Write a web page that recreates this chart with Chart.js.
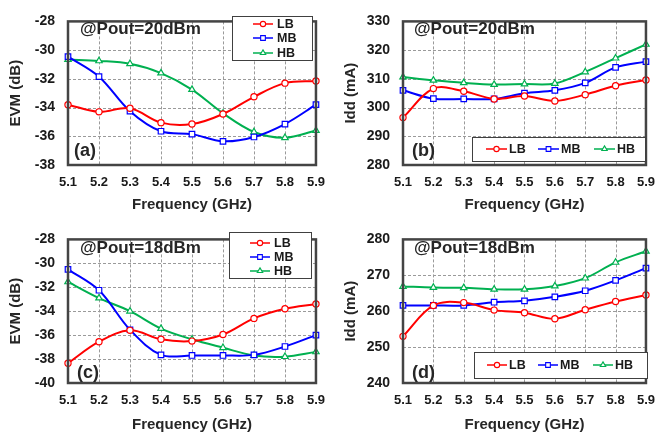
<!DOCTYPE html>
<html><head><meta charset="utf-8">
<script src="https://cdn.jsdelivr.net/npm/chart.js@4.4.0/dist/chart.umd.min.js"></script>
<style>
html,body{margin:0;padding:0;background:#fff;}
#wrap{position:relative;width:665px;height:438px;overflow:hidden;background:#fff;}
canvas{position:absolute;}
</style></head><body>
<div id="wrap">
<canvas id="ca" width="335" height="218" style="left:0;top:0"></canvas>
<canvas id="cb" width="330" height="218" style="left:335px;top:0"></canvas>
<canvas id="cc" width="335" height="220" style="left:0;top:218px"></canvas>
<canvas id="cd" width="330" height="220" style="left:335px;top:218px"></canvas>
</div>
<script>
// ---- data ----
const freqLabels = ['5.1','5.2','5.3','5.4','5.5','5.6','5.7','5.8','5.9'];
const seriesNames = ['LB','MB','HB'];

const evm20LB = [-33.8,-34.3,-34.05,-35.05,-35.15,-34.45,-33.25,-32.3,-32.15];
const evm20MB = [-30.45,-31.85,-34.25,-35.65,-35.85,-36.35,-36.05,-35.15,-33.8];
const evm20HB = [-30.65,-30.75,-30.95,-31.6,-32.75,-34.4,-35.7,-36.1,-35.6];

const idd20LB = [296.5,306.6,305.7,303.0,304.0,302.3,304.5,307.6,309.6];
const idd20MB = [306.0,303.1,303.0,303.0,305.0,306.0,308.6,314.0,316.0];
const idd20HB = [310.6,309.5,308.6,308.0,308.2,308.4,312.4,317.2,322.0];

const evm18LB = [-38.35,-36.55,-35.6,-36.35,-36.5,-35.95,-34.6,-33.8,-33.4];
const evm18MB = [-30.5,-32.25,-35.55,-37.65,-37.7,-37.7,-37.65,-36.95,-36.0];
const evm18HB = [-31.55,-32.9,-34.0,-35.45,-36.35,-37.05,-37.7,-37.8,-37.4];

const idd18LB = [253.0,261.6,262.4,260.3,259.6,257.9,260.4,262.7,264.5];
const idd18MB = [261.6,261.6,261.6,262.5,262.9,264.0,265.7,268.6,272.0];
const idd18HB = [266.9,266.6,266.5,266.1,266.1,267.0,269.2,273.6,276.7];

const evm20Ticks = [-38,-36,-34,-32,-30,-28];
const idd20Ticks = [280,290,300,310,320,330];
const evm18Ticks = [-40,-38,-36,-34,-32,-30,-28];
const idd18Ticks = [240,250,260,270,280];

// ---- styling ----
const FONT = "'Liberation Sans', Arial, sans-serif";
const COLORS = ['#ff0000','#0000ff','#00b050'];
const STYLES = ['circle','rect','triangle'];
const RADII = [3.1,3.9,3.7];

function makeDatasets(arrs){
  return arrs.map((d,i)=>({
    label: seriesNames[i],
    data: d,
    borderColor: COLORS[i],
    backgroundColor: '#ffffff',
    pointBackgroundColor: '#ffffff',
    pointBorderColor: COLORS[i],
    pointStyle: STYLES[i],
    pointRadius: RADII[i],
    pointBorderWidth: 1.2,
    borderWidth: 2,
    tension: 0.35,
    fill: false
  }));
}

// dashed grid drawn from the library's own scales
const gridPlugin = {
  id: 'dashGrid',
  beforeDatasetsDraw(chart){
    const ctx = chart.ctx, ca = chart.chartArea;
    const xs = chart.scales.x, ys = chart.scales.y;
    ctx.save();
    ctx.strokeStyle = '#9a9a9a';
    ctx.lineWidth = 1;
    ctx.setLineDash([3,2]);
    xs.ticks.forEach((t,i)=>{
      const px = Math.round(xs.getPixelForTick(i)) + 0.5;
      ctx.beginPath(); ctx.moveTo(px, ca.top); ctx.lineTo(px, ca.bottom); ctx.stroke();
    });
    ys.ticks.forEach(t=>{
      const py = Math.round(ys.getPixelForValue(t.value)) + 0.5;
      ctx.beginPath(); ctx.moveTo(ca.left, py); ctx.lineTo(ca.right, py); ctx.stroke();
    });
    ctx.restore();
  }
};

const decoPlugin = {
  id: 'deco',
  afterDraw(chart, args, o){
    const ctx = chart.ctx;
    const ca = chart.chartArea;
    ctx.save();
    // frame
    ctx.strokeStyle = '#444';
    ctx.lineWidth = 2.5;
    ctx.strokeRect(ca.left, ca.top, ca.right-ca.left, ca.bottom-ca.top);
    // texts
    ctx.fillStyle = '#262626';
    ctx.textBaseline = 'alphabetic';
    ctx.textAlign = 'left';
    ctx.font = 'bold 17px ' + FONT;
    ctx.fillText(o.title, o.titleX, o.titleY);
    ctx.font = 'bold 18px ' + FONT;
    ctx.fillText(o.tag, o.tagX, o.tagY);
    // legend
    const L = o.legend;
    ctx.fillStyle = '#fff';
    ctx.fillRect(L.box[0], L.box[1], L.box[2], L.box[3]);
    ctx.strokeStyle = '#404040';
    ctx.lineWidth = 1;
    ctx.strokeRect(L.box[0]+0.5, L.box[1]+0.5, L.box[2], L.box[3]);
    chart.data.datasets.forEach((ds,i)=>{
      const it = L.items[i];
      ctx.strokeStyle = ds.borderColor;
      ctx.lineWidth = 1.5;
      ctx.beginPath();
      ctx.moveTo(it.x1, it.y); ctx.lineTo(it.x2, it.y);
      ctx.stroke();
      ctx.fillStyle = '#fff';
      ctx.strokeStyle = ds.borderColor;
      ctx.lineWidth = 1.1;
      Chart.helpers.drawPoint(ctx, {pointStyle: ds.pointStyle, radius: ds.pointRadius*0.85, borderWidth: 1.1, rotation: 0}, (it.x1+it.x2)/2, it.y);
      ctx.fillStyle = '#1a1a1a';
      ctx.font = 'bold 12.5px ' + FONT;
      ctx.textBaseline = 'middle';
      ctx.fillText(ds.label, it.tx, it.y+0.5);
    });
    ctx.restore();
  }
};

function makeChart(id, arrs, ticks, yTitle, xHeight, padRight, deco){
  return new Chart(document.getElementById(id), {
    type: 'line',
    data: { labels: freqLabels, datasets: makeDatasets(arrs) },
    options: {
      responsive: false,
      animation: false,
      layout: { padding: { top: 12, right: padRight, left: 0, bottom: 0 } },
      plugins: { legend: { display: false }, tooltip: { enabled: false }, deco: deco },
      scales: {
        x: {
          type: 'category',
          offset: false,
          afterFit: s => { s.height = xHeight; },
          grid: { display: false, drawTicks: false },
          border: { display: false },
          ticks: { color: '#1a1a1a', font: { family: FONT, size: 13, weight: 'bold' }, padding: 10, maxRotation: 0, autoSkip: false },
          title: { display: true, text: 'Frequency (GHz)', color: '#262626', font: { family: FONT, size: 15, weight: 'bold' }, padding: { top: 0, bottom: 4 } }
        },
        y: {
          min: ticks[0], max: ticks[ticks.length-1],
          afterBuildTicks: s => { s.ticks = ticks.map(v => ({ value: v })); },
          afterFit: s => { s.width = 68; },
          grid: { display: false, drawTicks: false },
          border: { display: false },
          ticks: { color: '#1a1a1a', font: { family: FONT, size: 14, weight: 'bold' }, padding: 13 },
          title: { display: true, text: yTitle, color: '#262626', font: { family: FONT, size: 15, weight: 'bold' }, padding: { top: 7, bottom: 0 } }
        }
      }
    },
    plugins: [gridPlugin, decoPlugin]
  });
}

function vLegend(box, x1, x2, tx, ys){
  return { box: box, items: ys.map(y => ({ x1: x1, x2: x2, tx: tx, y: y })) };
}
function hLegend(box, y, x1s, len){
  return { box: box, items: x1s.map(x => ({ x1: x, x2: x+len, tx: x+len+2, y: y })) };
}

makeChart('ca', [evm20LB, evm20MB, evm20HB], evm20Ticks, 'EVM (dB)', 53, 13, {
  title: '@Pout=20dBm', titleX: 80, titleY: 34, tag: '(a)', tagX: 74, tagY: 156,
  legend: vLegend([232,16,80,44], 253, 273, 277, [24,38,53])
});
makeChart('cb', [idd20LB, idd20MB, idd20HB], idd20Ticks, 'Idd (mA)', 53, 8, {
  title: '@Pout=20dBm', titleX: 79, titleY: 34, tag: '(b)', tagX: 77, tagY: 156,
  legend: hLegend([137,137,173,24], 149, [151,203,259], 21)
});
makeChart('cc', [evm18LB, evm18MB, evm18HB], evm18Ticks, 'EVM (dB)', 55, 13, {
  title: '@Pout=18dBm', titleX: 80, titleY: 35, tag: '(c)', tagX: 77, tagY: 160,
  legend: vLegend([229,14,82,46], 250, 270, 274, [25,39,53])
});
makeChart('cd', [idd18LB, idd18MB, idd18HB], idd18Ticks, 'Idd (mA)', 55, 8, {
  title: '@Pout=18dBm', titleX: 79, titleY: 35, tag: '(d)', tagX: 77, tagY: 160,
  legend: hLegend([139,134,173,26], 147, [152,203,258], 20)
});
</script>
</body></html>
